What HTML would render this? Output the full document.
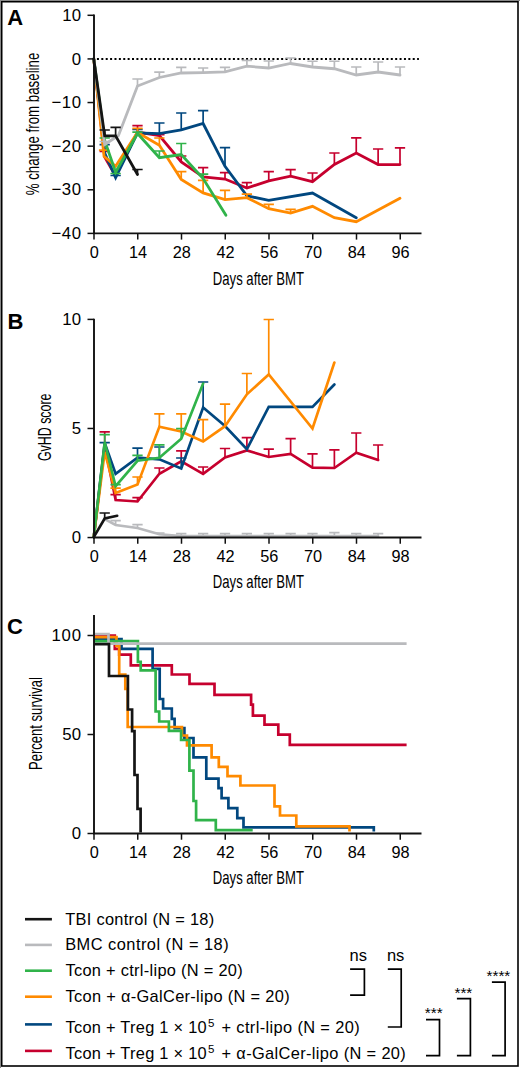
<!DOCTYPE html>
<html><head><meta charset="utf-8"><style>
html,body{margin:0;padding:0;background:#fff;}
svg{display:block;}
text{font-family:'Liberation Sans',sans-serif;fill:#000;}
</style></head><body>
<svg width="520" height="1068" viewBox="0 0 520 1068">
<rect width="520" height="1068" fill="#fff"/>
<rect x="1.7" y="1.7" width="516.3" height="1064.3" fill="none" stroke="#000" stroke-width="1.6"/>
<path d="M0.5 0 V1068 M0 0.5 H520" stroke="#888" stroke-width="1"/>
<text x="7.30" y="24.90" font-size="22" text-anchor="start" font-weight="bold" >A</text>
<text x="81.00" y="20.90" font-size="16.8" text-anchor="end" font-weight="normal" >10</text>
<text x="81.00" y="64.52" font-size="16.8" text-anchor="end" font-weight="normal" >0</text>
<text x="51.50" y="108.14" font-size="16.8" text-anchor="start" font-weight="normal" textLength="29.5" lengthAdjust="spacing" >−10</text>
<text x="51.50" y="151.76" font-size="16.8" text-anchor="start" font-weight="normal" textLength="29.5" lengthAdjust="spacing" >−20</text>
<text x="51.50" y="195.38" font-size="16.8" text-anchor="start" font-weight="normal" textLength="29.5" lengthAdjust="spacing" >−30</text>
<text x="51.50" y="239.00" font-size="16.8" text-anchor="start" font-weight="normal" textLength="29.5" lengthAdjust="spacing" >−40</text>
<text x="94.30" y="258.20" font-size="16.3" text-anchor="middle" font-weight="normal" >0</text>
<text x="138.05" y="258.20" font-size="16.3" text-anchor="middle" font-weight="normal" >14</text>
<text x="181.80" y="258.20" font-size="16.3" text-anchor="middle" font-weight="normal" >28</text>
<text x="225.55" y="258.20" font-size="16.3" text-anchor="middle" font-weight="normal" >42</text>
<text x="269.30" y="258.20" font-size="16.3" text-anchor="middle" font-weight="normal" >56</text>
<text x="313.05" y="258.20" font-size="16.3" text-anchor="middle" font-weight="normal" >70</text>
<text x="356.80" y="258.20" font-size="16.3" text-anchor="middle" font-weight="normal" >84</text>
<text x="400.55" y="258.20" font-size="16.3" text-anchor="middle" font-weight="normal" >96</text>
<text x="258.40" y="284.70" font-size="19" text-anchor="middle" font-weight="normal" textLength="91.1" lengthAdjust="spacingAndGlyphs" >Days after BMT</text>
<path d="M96.93 58.92 H418.9" stroke="#000" stroke-width="2" stroke-dasharray="2 2.386"/>
<text x="7.60" y="328.90" font-size="22" text-anchor="start" font-weight="bold" >B</text>
<text x="81.00" y="325.00" font-size="16.8" text-anchor="end" font-weight="normal" >10</text>
<text x="81.00" y="434.07" font-size="16.8" text-anchor="end" font-weight="normal" >5</text>
<text x="81.00" y="543.15" font-size="16.8" text-anchor="end" font-weight="normal" >0</text>
<text x="94.30" y="561.50" font-size="16.3" text-anchor="middle" font-weight="normal" >0</text>
<text x="138.05" y="561.50" font-size="16.3" text-anchor="middle" font-weight="normal" >14</text>
<text x="181.80" y="561.50" font-size="16.3" text-anchor="middle" font-weight="normal" >28</text>
<text x="225.55" y="561.50" font-size="16.3" text-anchor="middle" font-weight="normal" >42</text>
<text x="269.30" y="561.50" font-size="16.3" text-anchor="middle" font-weight="normal" >56</text>
<text x="313.05" y="561.50" font-size="16.3" text-anchor="middle" font-weight="normal" >70</text>
<text x="356.80" y="561.50" font-size="16.3" text-anchor="middle" font-weight="normal" >84</text>
<text x="400.55" y="561.50" font-size="16.3" text-anchor="middle" font-weight="normal" >98</text>
<text x="258.40" y="587.70" font-size="19" text-anchor="middle" font-weight="normal" textLength="91.1" lengthAdjust="spacingAndGlyphs" >Days after BMT</text>
<text x="7.00" y="634.00" font-size="22" text-anchor="start" font-weight="bold" >C</text>
<text x="51.50" y="641.10" font-size="16.8" text-anchor="start" font-weight="normal" textLength="29.5" lengthAdjust="spacing" >100</text>
<text x="81.00" y="740.10" font-size="16.8" text-anchor="end" font-weight="normal" >50</text>
<text x="81.00" y="839.10" font-size="16.8" text-anchor="end" font-weight="normal" >0</text>
<text x="94.30" y="857.80" font-size="16.3" text-anchor="middle" font-weight="normal" >0</text>
<text x="138.05" y="857.80" font-size="16.3" text-anchor="middle" font-weight="normal" >14</text>
<text x="181.80" y="857.80" font-size="16.3" text-anchor="middle" font-weight="normal" >28</text>
<text x="225.55" y="857.80" font-size="16.3" text-anchor="middle" font-weight="normal" >42</text>
<text x="269.30" y="857.80" font-size="16.3" text-anchor="middle" font-weight="normal" >56</text>
<text x="313.05" y="857.80" font-size="16.3" text-anchor="middle" font-weight="normal" >70</text>
<text x="356.80" y="857.80" font-size="16.3" text-anchor="middle" font-weight="normal" >84</text>
<text x="400.55" y="857.80" font-size="16.3" text-anchor="middle" font-weight="normal" >98</text>
<text x="258.40" y="883.70" font-size="19" text-anchor="middle" font-weight="normal" textLength="91.1" lengthAdjust="spacingAndGlyphs" >Days after BMT</text>
<text transform="translate(39.00,124.00) rotate(-90)" x="0" y="0" font-size="19" text-anchor="middle" textLength="142.7" lengthAdjust="spacingAndGlyphs">% change from baseline</text>
<path d="M104.69 157.00 V151.50 M99.54 151.50 H109.84" stroke="#c6002e" stroke-width="1.7" fill="none"/>
<path d="M137.50 132.00 V125.70 M132.35 125.70 H142.65" stroke="#c6002e" stroke-width="1.7" fill="none"/>
<path d="M159.38 135.60 V134.60 M154.22 134.60 H164.53" stroke="#c6002e" stroke-width="1.7" fill="none"/>
<path d="M181.25 162.00 V156.00 M176.10 156.00 H186.40" stroke="#c6002e" stroke-width="1.7" fill="none"/>
<path d="M203.12 177.00 V167.60 M197.97 167.60 H208.28" stroke="#c6002e" stroke-width="1.7" fill="none"/>
<path d="M225.00 179.00 V172.70 M219.85 172.70 H230.15" stroke="#c6002e" stroke-width="1.7" fill="none"/>
<path d="M246.88 188.00 V182.70 M241.72 182.70 H252.03" stroke="#c6002e" stroke-width="1.7" fill="none"/>
<path d="M268.75 180.80 V171.60 M263.60 171.60 H273.90" stroke="#c6002e" stroke-width="1.7" fill="none"/>
<path d="M290.62 176.20 V169.60 M285.48 169.60 H295.77" stroke="#c6002e" stroke-width="1.7" fill="none"/>
<path d="M312.50 181.70 V173.00 M307.35 173.00 H317.65" stroke="#c6002e" stroke-width="1.7" fill="none"/>
<path d="M334.38 164.50 V153.00 M329.23 153.00 H339.52" stroke="#c6002e" stroke-width="1.7" fill="none"/>
<path d="M356.25 153.00 V137.90 M351.10 137.90 H361.40" stroke="#c6002e" stroke-width="1.7" fill="none"/>
<path d="M378.12 164.60 V149.00 M372.98 149.00 H383.27" stroke="#c6002e" stroke-width="1.7" fill="none"/>
<path d="M400.00 164.60 V147.80 M394.85 147.80 H405.15" stroke="#c6002e" stroke-width="1.7" fill="none"/>
<polyline points="93.75,58.90 104.69,157.00 115.62,176.00 137.50,132.00 159.38,135.60 181.25,162.00 203.12,177.00 225.00,179.00 246.88,188.00 268.75,180.80 290.62,176.20 312.50,181.70 334.38,164.50 356.25,153.00 378.12,164.60 400.00,164.60" fill="none" stroke="#c6002e" stroke-width="2.8" stroke-linejoin="miter" stroke-miterlimit="3" stroke-linecap="round"/>
<path d="M104.69 153.00 V144.70 M99.54 144.70 H109.84" stroke="#01477f" stroke-width="1.7" fill="none"/>
<path d="M115.62 177.70 V175.50 M110.47 175.50 H120.78" stroke="#01477f" stroke-width="1.7" fill="none"/>
<path d="M137.50 133.00 V129.50 M132.35 129.50 H142.65" stroke="#01477f" stroke-width="1.7" fill="none"/>
<path d="M159.38 133.70 V123.00 M154.22 123.00 H164.53" stroke="#01477f" stroke-width="1.7" fill="none"/>
<path d="M181.25 129.80 V113.00 M176.10 113.00 H186.40" stroke="#01477f" stroke-width="1.7" fill="none"/>
<path d="M203.12 123.50 V110.60 M197.97 110.60 H208.28" stroke="#01477f" stroke-width="1.7" fill="none"/>
<path d="M225.00 166.30 V147.70 M219.85 147.70 H230.15" stroke="#01477f" stroke-width="1.7" fill="none"/>
<polyline points="93.75,58.90 104.69,153.00 115.62,177.70 137.50,133.00 159.38,133.70 181.25,129.80 203.12,123.50 225.00,166.30 246.88,195.80 268.75,200.40 312.50,193.00 356.25,217.70" fill="none" stroke="#01477f" stroke-width="2.8" stroke-linejoin="miter" stroke-miterlimit="3" stroke-linecap="round"/>
<path d="M104.06 156.20 V150.20 M98.91 150.20 H109.21" stroke="#ff8a00" stroke-width="1.7" fill="none"/>
<path d="M137.50 132.50 V128.40 M132.35 128.40 H142.65" stroke="#ff8a00" stroke-width="1.7" fill="none"/>
<path d="M159.38 145.20 V138.00 M154.22 138.00 H164.53" stroke="#ff8a00" stroke-width="1.7" fill="none"/>
<path d="M181.25 179.40 V171.70 M176.10 171.70 H186.40" stroke="#ff8a00" stroke-width="1.7" fill="none"/>
<path d="M203.12 192.90 V180.40 M197.97 180.40 H208.28" stroke="#ff8a00" stroke-width="1.7" fill="none"/>
<path d="M225.00 199.60 V190.40 M219.85 190.40 H230.15" stroke="#ff8a00" stroke-width="1.7" fill="none"/>
<path d="M246.88 197.70 V194.20 M241.72 194.20 H252.03" stroke="#ff8a00" stroke-width="1.7" fill="none"/>
<path d="M268.75 208.70 V204.40 M263.60 204.40 H273.90" stroke="#ff8a00" stroke-width="1.7" fill="none"/>
<path d="M290.62 213.00 V209.40 M285.48 209.40 H295.77" stroke="#ff8a00" stroke-width="1.7" fill="none"/>
<polyline points="93.75,58.90 104.06,156.20 115.62,166.20 137.50,132.50 159.38,145.20 181.25,179.40 203.12,192.90 225.00,199.60 246.88,197.70 268.75,208.70 290.62,213.00 312.50,206.30 334.38,217.70 356.25,221.70 400.00,198.30" fill="none" stroke="#ff8a00" stroke-width="2.8" stroke-linejoin="miter" stroke-miterlimit="3" stroke-linecap="round"/>
<path d="M104.69 140.50 V138.00 M99.54 138.00 H109.84" stroke="#30b34a" stroke-width="1.7" fill="none"/>
<path d="M115.62 172.30 V173.50 M110.47 173.50 H120.78" stroke="#30b34a" stroke-width="1.7" fill="none"/>
<path d="M137.50 133.50 V132.20 M132.35 132.20 H142.65" stroke="#30b34a" stroke-width="1.7" fill="none"/>
<path d="M159.38 157.70 V151.00 M154.22 151.00 H164.53" stroke="#30b34a" stroke-width="1.7" fill="none"/>
<path d="M181.25 154.60 V143.50 M176.10 143.50 H186.40" stroke="#30b34a" stroke-width="1.7" fill="none"/>
<path d="M203.12 178.50 V174.20 M197.97 174.20 H208.28" stroke="#30b34a" stroke-width="1.7" fill="none"/>
<polyline points="93.75,58.90 104.69,140.50 115.62,172.30 137.50,133.50 159.38,157.70 181.25,154.60 203.12,178.50 225.94,215.30" fill="none" stroke="#30b34a" stroke-width="2.8" stroke-linejoin="miter" stroke-miterlimit="3" stroke-linecap="round"/>
<path d="M104.69 144.50 V141.50 M99.54 141.50 H109.84" stroke="#b9babd" stroke-width="1.7" fill="none"/>
<path d="M137.50 86.00 V79.00 M132.35 79.00 H142.65" stroke="#b9babd" stroke-width="1.7" fill="none"/>
<path d="M159.38 77.50 V72.20 M154.22 72.20 H164.53" stroke="#b9babd" stroke-width="1.7" fill="none"/>
<path d="M181.25 73.00 V67.30 M176.10 67.30 H186.40" stroke="#b9babd" stroke-width="1.7" fill="none"/>
<path d="M203.12 72.60 V68.00 M197.97 68.00 H208.28" stroke="#b9babd" stroke-width="1.7" fill="none"/>
<path d="M225.00 71.90 V67.30 M219.85 67.30 H230.15" stroke="#b9babd" stroke-width="1.7" fill="none"/>
<path d="M246.88 66.20 V60.40 M241.72 60.40 H252.03" stroke="#b9babd" stroke-width="1.7" fill="none"/>
<path d="M268.75 68.00 V61.00 M263.60 61.00 H273.90" stroke="#b9babd" stroke-width="1.7" fill="none"/>
<path d="M290.62 63.50 V58.00 M285.48 58.00 H295.77" stroke="#b9babd" stroke-width="1.7" fill="none"/>
<path d="M312.50 67.00 V61.25 M307.35 61.25 H317.65" stroke="#b9babd" stroke-width="1.7" fill="none"/>
<path d="M334.38 68.75 V61.25 M329.23 61.25 H339.52" stroke="#b9babd" stroke-width="1.7" fill="none"/>
<path d="M356.25 75.00 V67.00 M351.10 67.00 H361.40" stroke="#b9babd" stroke-width="1.7" fill="none"/>
<path d="M378.12 72.00 V62.00 M372.98 62.00 H383.27" stroke="#b9babd" stroke-width="1.7" fill="none"/>
<path d="M400.00 75.00 V67.00 M394.85 67.00 H405.15" stroke="#b9babd" stroke-width="1.7" fill="none"/>
<polyline points="93.75,58.90 104.69,144.50 118.44,135.50 137.50,86.00 159.38,77.50 181.25,73.00 203.12,72.60 225.00,71.90 246.88,66.20 268.75,68.00 290.62,63.50 312.50,67.00 334.38,68.75 356.25,75.00 378.12,72.00 400.00,75.00" fill="none" stroke="#b9babd" stroke-width="2.8" stroke-linejoin="miter" stroke-miterlimit="3" stroke-linecap="round"/>
<path d="M104.69 135.80 V130.00 M99.54 130.00 H109.84" stroke="#141414" stroke-width="1.7" fill="none"/>
<path d="M115.62 135.80 V127.30 M110.47 127.30 H120.78" stroke="#141414" stroke-width="1.7" fill="none"/>
<path d="M137.50 174.50 V169.50 M132.35 169.50 H142.65" stroke="#141414" stroke-width="1.7" fill="none"/>
<polyline points="93.75,58.90 104.69,135.80 115.62,135.80 137.50,174.50" fill="none" stroke="#141414" stroke-width="2.8" stroke-linejoin="miter" stroke-miterlimit="3" stroke-linecap="round"/>
<path d="M115.62 525.00 V520.70 M110.47 520.70 H120.78" stroke="#b9babd" stroke-width="1.7" fill="none"/>
<path d="M137.50 528.00 V524.70 M132.35 524.70 H142.65" stroke="#b9babd" stroke-width="1.7" fill="none"/>
<path d="M159.38 534.30 V533.00 M154.22 533.00 H164.53" stroke="#b9babd" stroke-width="1.7" fill="none"/>
<path d="M181.25 536.00 V533.60 M176.10 533.60 H186.40" stroke="#b9babd" stroke-width="1.7" fill="none"/>
<path d="M203.12 536.00 V533.60 M197.97 533.60 H208.28" stroke="#b9babd" stroke-width="1.7" fill="none"/>
<path d="M225.00 536.00 V533.60 M219.85 533.60 H230.15" stroke="#b9babd" stroke-width="1.7" fill="none"/>
<path d="M246.88 536.00 V533.60 M241.72 533.60 H252.03" stroke="#b9babd" stroke-width="1.7" fill="none"/>
<path d="M268.75 536.00 V533.60 M263.60 533.60 H273.90" stroke="#b9babd" stroke-width="1.7" fill="none"/>
<path d="M290.62 536.00 V533.60 M285.48 533.60 H295.77" stroke="#b9babd" stroke-width="1.7" fill="none"/>
<path d="M312.50 536.00 V533.60 M307.35 533.60 H317.65" stroke="#b9babd" stroke-width="1.7" fill="none"/>
<path d="M334.38 536.00 V532.60 M329.23 532.60 H339.52" stroke="#b9babd" stroke-width="1.7" fill="none"/>
<path d="M356.25 536.00 V533.60 M351.10 533.60 H361.40" stroke="#b9babd" stroke-width="1.7" fill="none"/>
<path d="M378.12 536.00 V533.60 M372.98 533.60 H383.27" stroke="#b9babd" stroke-width="1.7" fill="none"/>
<polyline points="104.69,519.20 115.62,525.00 137.50,528.00 159.38,534.30 181.25,536.00 203.12,536.00 225.00,536.00 246.88,536.00 268.75,536.00 290.62,536.00 312.50,536.00 334.38,536.00 356.25,536.00 378.12,536.00" fill="none" stroke="#b9babd" stroke-width="2.65" stroke-linejoin="miter" stroke-miterlimit="3" stroke-linecap="round"/>
<path d="M104.69 445.40 V431.80 M99.54 431.80 H109.84" stroke="#c6002e" stroke-width="1.7" fill="none"/>
<path d="M115.62 500.00 V494.60 M110.47 494.60 H120.78" stroke="#c6002e" stroke-width="1.7" fill="none"/>
<path d="M137.50 501.50 V497.70 M132.35 497.70 H142.65" stroke="#c6002e" stroke-width="1.7" fill="none"/>
<path d="M159.38 473.80 V468.00 M154.22 468.00 H164.53" stroke="#c6002e" stroke-width="1.7" fill="none"/>
<path d="M181.25 461.30 V450.80 M176.10 450.80 H186.40" stroke="#c6002e" stroke-width="1.7" fill="none"/>
<path d="M203.12 473.80 V467.00 M197.97 467.00 H208.28" stroke="#c6002e" stroke-width="1.7" fill="none"/>
<path d="M225.00 457.50 V448.50 M219.85 448.50 H230.15" stroke="#c6002e" stroke-width="1.7" fill="none"/>
<path d="M246.88 450.40 V437.70 M241.72 437.70 H252.03" stroke="#c6002e" stroke-width="1.7" fill="none"/>
<path d="M268.75 457.00 V449.20 M263.60 449.20 H273.90" stroke="#c6002e" stroke-width="1.7" fill="none"/>
<path d="M290.62 453.90 V438.60 M285.48 438.60 H295.77" stroke="#c6002e" stroke-width="1.7" fill="none"/>
<path d="M312.50 467.60 V453.90 M307.35 453.90 H317.65" stroke="#c6002e" stroke-width="1.7" fill="none"/>
<path d="M334.38 468.00 V449.80 M329.23 449.80 H339.52" stroke="#c6002e" stroke-width="1.7" fill="none"/>
<path d="M356.25 452.70 V433.00 M351.10 433.00 H361.40" stroke="#c6002e" stroke-width="1.7" fill="none"/>
<path d="M378.12 460.00 V445.00 M372.98 445.00 H383.27" stroke="#c6002e" stroke-width="1.7" fill="none"/>
<polyline points="93.75,537.20 104.69,445.40 115.62,500.00 137.50,501.50 159.38,473.80 181.25,461.30 203.12,473.80 225.00,457.50 246.88,450.40 268.75,457.00 290.62,453.90 312.50,467.60 334.38,468.00 356.25,452.70 378.12,460.00" fill="none" stroke="#c6002e" stroke-width="2.65" stroke-linejoin="miter" stroke-miterlimit="3" stroke-linecap="round"/>
<path d="M104.69 443.00 V442.60 M99.54 442.60 H109.84" stroke="#01477f" stroke-width="1.7" fill="none"/>
<path d="M137.50 457.70 V448.20 M132.35 448.20 H142.65" stroke="#01477f" stroke-width="1.7" fill="none"/>
<path d="M159.38 459.40 V447.00 M154.22 447.00 H164.53" stroke="#01477f" stroke-width="1.7" fill="none"/>
<path d="M181.25 468.50 V458.00 M176.10 458.00 H186.40" stroke="#01477f" stroke-width="1.7" fill="none"/>
<path d="M203.12 407.50 V382.00 M197.97 382.00 H208.28" stroke="#01477f" stroke-width="1.7" fill="none"/>
<polyline points="93.75,537.20 104.69,443.00 115.62,473.80 137.50,457.70 159.38,459.40 181.25,468.50 203.12,407.50 225.00,426.00 246.88,449.20 268.75,406.90 312.50,406.90 334.38,384.50" fill="none" stroke="#01477f" stroke-width="2.65" stroke-linejoin="miter" stroke-miterlimit="3" stroke-linecap="round"/>
<path d="M115.62 493.00 V488.20 M110.47 488.20 H120.78" stroke="#ff8a00" stroke-width="1.7" fill="none"/>
<path d="M137.50 484.60 V477.00 M132.35 477.00 H142.65" stroke="#ff8a00" stroke-width="1.7" fill="none"/>
<path d="M159.38 426.70 V413.80 M154.22 413.80 H164.53" stroke="#ff8a00" stroke-width="1.7" fill="none"/>
<path d="M181.25 431.50 V413.80 M176.10 413.80 H186.40" stroke="#ff8a00" stroke-width="1.7" fill="none"/>
<path d="M203.12 441.50 V419.60 M197.97 419.60 H208.28" stroke="#ff8a00" stroke-width="1.7" fill="none"/>
<path d="M225.00 426.20 V404.20 M219.85 404.20 H230.15" stroke="#ff8a00" stroke-width="1.7" fill="none"/>
<path d="M246.88 394.30 V373.50 M241.72 373.50 H252.03" stroke="#ff8a00" stroke-width="1.7" fill="none"/>
<path d="M268.75 374.50 V319.50 M263.60 319.50 H273.90" stroke="#ff8a00" stroke-width="1.7" fill="none"/>
<polyline points="93.75,537.20 104.69,452.00 115.62,493.00 137.50,484.60 159.38,426.70 181.25,431.50 203.12,441.50 225.00,426.20 246.88,394.30 268.75,374.50 312.50,428.50 334.38,362.50" fill="none" stroke="#ff8a00" stroke-width="2.65" stroke-linejoin="miter" stroke-miterlimit="3" stroke-linecap="round"/>
<path d="M104.69 442.30 V434.60 M99.54 434.60 H109.84" stroke="#30b34a" stroke-width="1.7" fill="none"/>
<path d="M115.62 486.20 V484.60 M110.47 484.60 H120.78" stroke="#30b34a" stroke-width="1.7" fill="none"/>
<path d="M137.50 460.80 V455.40 M132.35 455.40 H142.65" stroke="#30b34a" stroke-width="1.7" fill="none"/>
<path d="M159.38 457.70 V444.90 M154.22 444.90 H164.53" stroke="#30b34a" stroke-width="1.7" fill="none"/>
<path d="M181.25 438.80 V428.70 M176.10 428.70 H186.40" stroke="#30b34a" stroke-width="1.7" fill="none"/>
<polyline points="93.75,537.20 104.69,442.30 115.62,486.20 137.50,460.80 159.38,457.70 181.25,438.80 203.12,383.50" fill="none" stroke="#30b34a" stroke-width="2.65" stroke-linejoin="miter" stroke-miterlimit="3" stroke-linecap="round"/>
<path d="M104.69 518.50 V513.00 M99.54 513.00 H109.84" stroke="#141414" stroke-width="1.7" fill="none"/>
<polyline points="93.75,537.20 104.69,518.50 117.19,515.80" fill="none" stroke="#141414" stroke-width="2.65" stroke-linejoin="miter" stroke-miterlimit="3" stroke-linecap="round"/>
<polyline points="94.20,635.50 114.80,635.50 114.80,648.90 119.20,648.90 119.20,654.70 130.80,654.70 130.80,665.30 171.80,665.30 171.80,674.50 189.50,674.50 189.50,683.90 214.50,683.90 214.50,694.90 251.10,694.90 251.10,704.60 252.90,704.60 252.90,715.70 264.50,715.70 264.50,724.70 278.30,724.70 278.30,734.60 289.80,734.60 289.80,744.80 406.60,744.80" fill="none" stroke="#c6002e" stroke-width="2.7" stroke-linejoin="miter"/>
<polyline points="94.20,639.00 121.50,639.00 121.50,648.90 152.60,648.90 152.60,668.80 159.70,668.80 159.70,699.00 163.10,699.00 163.10,708.50 171.80,708.50 171.80,718.90 174.60,718.90 174.60,728.20 184.40,728.20 184.40,738.00 193.50,738.00 193.50,757.30 206.30,757.30 206.30,778.60 218.50,778.60 218.50,788.10 221.60,788.10 221.60,798.10 228.40,798.10 228.40,808.10 237.30,808.10 237.30,818.10 243.50,818.10 243.50,827.30 373.80,827.30 373.80,831.50" fill="none" stroke="#01477f" stroke-width="2.7" stroke-linejoin="miter"/>
<polyline points="94.20,637.10 116.50,637.10 116.50,645.80 119.20,645.80 119.20,674.70 125.30,674.70 125.30,688.90 127.70,688.90 127.70,727.00 181.90,727.00 181.90,735.50 187.00,735.50 187.00,745.30 211.60,745.30 211.60,757.30 218.80,757.30 218.80,766.80 227.50,766.80 227.50,776.10 240.40,776.10 240.40,785.50 274.50,785.50 274.50,806.30 280.00,806.30 280.00,815.50 296.30,815.50 296.30,826.30 349.50,826.30 349.50,831.50" fill="none" stroke="#ff8a00" stroke-width="2.7" stroke-linejoin="miter"/>
<polyline points="94.20,641.20 137.90,641.20 137.90,661.80 140.70,661.80 140.70,670.40 155.60,670.40 155.60,711.50 159.20,711.50 159.20,721.50 168.90,721.50 168.90,730.80 181.10,730.80 181.10,740.00 189.40,740.00 189.40,770.60 193.50,770.60 193.50,801.00 196.10,801.00 196.10,820.10 215.80,820.10 215.80,830.20 252.70,830.20" fill="none" stroke="#30b34a" stroke-width="2.7" stroke-linejoin="miter"/>
<polyline points="94.20,634.00 108.50,634.00 108.50,643.60 406.60,643.60" fill="none" stroke="#b9babd" stroke-width="2.7" stroke-linejoin="miter"/>
<polyline points="94.20,644.20 109.00,644.20 109.00,676.00 127.90,676.00 127.90,709.50 132.10,709.50 132.10,731.20 134.50,731.20 134.50,775.00 137.50,775.00 137.50,808.80 140.60,808.80 140.60,832.50" fill="none" stroke="#141414" stroke-width="2.7" stroke-linejoin="miter"/>
<text transform="translate(51.20,427.30) rotate(-90)" x="0" y="0" font-size="19" text-anchor="middle" textLength="67.6" lengthAdjust="spacingAndGlyphs">GvHD score</text>
<text transform="translate(42.20,723.60) rotate(-90)" x="0" y="0" font-size="19" text-anchor="middle" textLength="92.9" lengthAdjust="spacingAndGlyphs">Percent survival</text>
<path d="M25 919.2 H51.9" stroke="#141414" stroke-width="2.6"/>
<path d="M25 944.9 H51.9" stroke="#b9babd" stroke-width="2.6"/>
<path d="M25 970.7 H51.9" stroke="#30b34a" stroke-width="2.6"/>
<path d="M25 996.7 H51.9" stroke="#ff8a00" stroke-width="2.6"/>
<path d="M25 1024.4 H51.9" stroke="#01477f" stroke-width="2.6"/>
<path d="M25 1050.9 H51.9" stroke="#c6002e" stroke-width="2.6"/>
<text x="65.20" y="924.90" font-size="16.4" text-anchor="start" font-weight="normal" textLength="149" lengthAdjust="spacing" >TBI control (N = 18)</text>
<text x="65.20" y="950.20" font-size="16.4" text-anchor="start" font-weight="normal" textLength="163.4" lengthAdjust="spacing" >BMC control (N = 18)</text>
<text x="65.50" y="975.50" font-size="16.4" text-anchor="start" font-weight="normal" textLength="177.2" lengthAdjust="spacing" >Tcon + ctrl-lipo (N = 20)</text>
<text x="65.50" y="1002.30" font-size="16.4" text-anchor="start" font-weight="normal" textLength="224.1" lengthAdjust="spacing" >Tcon + α-GalCer-lipo (N = 20)</text>
<text x="65.50" y="1032.70" font-size="16.4" text-anchor="start" font-weight="normal" textLength="141.2" lengthAdjust="spacing" >Tcon + Treg 1 × 10</text>
<text x="208.00" y="1026.80" font-size="11.5" text-anchor="start" font-weight="normal" >5</text>
<text x="221.50" y="1032.70" font-size="16.4" text-anchor="start" font-weight="normal" textLength="138.10000000000002" lengthAdjust="spacing" >+ ctrl-lipo (N = 20)</text>
<text x="65.50" y="1059.00" font-size="16.4" text-anchor="start" font-weight="normal" textLength="141.2" lengthAdjust="spacing" >Tcon + Treg 1 × 10</text>
<text x="208.00" y="1053.10" font-size="11.5" text-anchor="start" font-weight="normal" >5</text>
<text x="221.50" y="1059.00" font-size="16.4" text-anchor="start" font-weight="normal" textLength="184.3" lengthAdjust="spacing" >+ α-GalCer-lipo (N = 20)</text>
<path d="M350.1 969.2 H364.4 V995.2 H350.1" fill="none" stroke="#000" stroke-width="1.7"/>
<path d="M387.8 969.2 H401.2 V1027 H387.8" fill="none" stroke="#000" stroke-width="1.7"/>
<path d="M426 1019.7 H439.5 V1055.7 H426" fill="none" stroke="#000" stroke-width="1.7"/>
<path d="M456.9 998.6 H470.4 V1055.7 H456.9" fill="none" stroke="#000" stroke-width="1.7"/>
<path d="M491.9 982.2 H505.1 V1055.7 H491.9" fill="none" stroke="#000" stroke-width="1.7"/>
<text x="358.20" y="961.00" font-size="16.5" text-anchor="middle" font-weight="normal" >ns</text>
<text x="395.60" y="961.00" font-size="16.5" text-anchor="middle" font-weight="normal" >ns</text>
<text x="433.70" y="1018.30" font-size="15.3" text-anchor="middle" font-weight="normal" >***</text>
<text x="463.40" y="998.00" font-size="15.3" text-anchor="middle" font-weight="normal" >***</text>
<text x="498.40" y="981.30" font-size="15.3" text-anchor="middle" font-weight="normal" >****</text>
<path d="M94.0 14.6 V233.4 H421.5" fill="none" stroke="#111" stroke-width="1.9"/>
<path d="M87.5 15.30 H94.0" stroke="#111" stroke-width="1.5"/>
<path d="M87.5 58.92 H94.0" stroke="#111" stroke-width="1.5"/>
<path d="M87.5 102.54 H94.0" stroke="#111" stroke-width="1.5"/>
<path d="M87.5 146.16 H94.0" stroke="#111" stroke-width="1.5"/>
<path d="M87.5 189.78 H94.0" stroke="#111" stroke-width="1.5"/>
<path d="M87.5 233.40 H94.0" stroke="#111" stroke-width="1.5"/>
<path d="M94.00 233.4 V239.6" stroke="#111" stroke-width="1.5"/>
<path d="M137.75 233.4 V239.6" stroke="#111" stroke-width="1.5"/>
<path d="M181.50 233.4 V239.6" stroke="#111" stroke-width="1.5"/>
<path d="M225.25 233.4 V239.6" stroke="#111" stroke-width="1.5"/>
<path d="M269.00 233.4 V239.6" stroke="#111" stroke-width="1.5"/>
<path d="M312.75 233.4 V239.6" stroke="#111" stroke-width="1.5"/>
<path d="M356.50 233.4 V239.6" stroke="#111" stroke-width="1.5"/>
<path d="M400.25 233.4 V239.6" stroke="#111" stroke-width="1.5"/>
<path d="M94.0 318.7 V537.55 H421.5" fill="none" stroke="#111" stroke-width="1.9"/>
<path d="M87.5 319.40 H94.0" stroke="#111" stroke-width="1.5"/>
<path d="M87.5 428.47 H94.0" stroke="#111" stroke-width="1.5"/>
<path d="M87.5 537.55 H94.0" stroke="#111" stroke-width="1.5"/>
<path d="M94.00 537.55 V543.75" stroke="#111" stroke-width="1.5"/>
<path d="M137.75 537.55 V543.75" stroke="#111" stroke-width="1.5"/>
<path d="M181.50 537.55 V543.75" stroke="#111" stroke-width="1.5"/>
<path d="M225.25 537.55 V543.75" stroke="#111" stroke-width="1.5"/>
<path d="M269.00 537.55 V543.75" stroke="#111" stroke-width="1.5"/>
<path d="M312.75 537.55 V543.75" stroke="#111" stroke-width="1.5"/>
<path d="M356.50 537.55 V543.75" stroke="#111" stroke-width="1.5"/>
<path d="M400.25 537.55 V543.75" stroke="#111" stroke-width="1.5"/>
<path d="M94.0 614.9 V833.5 H421.5" fill="none" stroke="#111" stroke-width="1.9"/>
<path d="M87.5 635.50 H94.0" stroke="#111" stroke-width="1.5"/>
<path d="M87.5 734.50 H94.0" stroke="#111" stroke-width="1.5"/>
<path d="M87.5 833.50 H94.0" stroke="#111" stroke-width="1.5"/>
<path d="M94.00 833.5 V839.7" stroke="#111" stroke-width="1.5"/>
<path d="M137.75 833.5 V839.7" stroke="#111" stroke-width="1.5"/>
<path d="M181.50 833.5 V839.7" stroke="#111" stroke-width="1.5"/>
<path d="M225.25 833.5 V839.7" stroke="#111" stroke-width="1.5"/>
<path d="M269.00 833.5 V839.7" stroke="#111" stroke-width="1.5"/>
<path d="M312.75 833.5 V839.7" stroke="#111" stroke-width="1.5"/>
<path d="M356.50 833.5 V839.7" stroke="#111" stroke-width="1.5"/>
<path d="M400.25 833.5 V839.7" stroke="#111" stroke-width="1.5"/>
</svg></body></html>
